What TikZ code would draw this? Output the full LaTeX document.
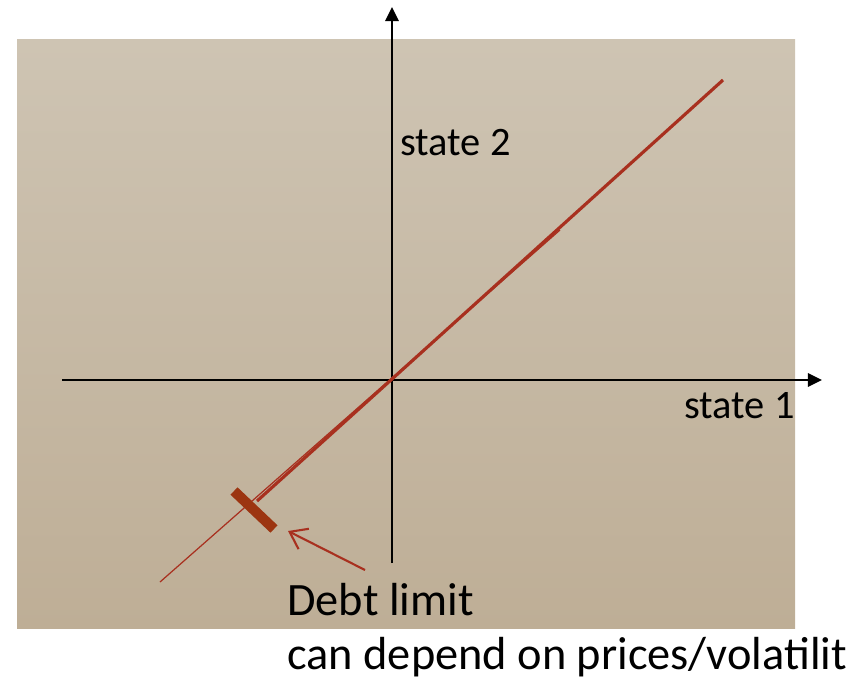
\documentclass[tikz,border=0pt]{standalone}
\usepackage{fontspec}
\setmainfont{Carlito}
\usetikzlibrary{arrows.meta}

\definecolor{bgtop}{HTML}{CEC4B3}
\definecolor{bgbot}{HTML}{BEAE96}
\definecolor{budget}{HTML}{A8301F}
\definecolor{limitbar}{HTML}{9C3511}

\begin{document}
\begin{tikzpicture}[x=0.02cm, y=-0.02cm,
    axis/.style={line width=1.5pt, -{Triangle[length=8pt, width=7.5pt]}},
    label/.style={font=\fontsize{23}{27}\selectfont, inner sep=0pt, anchor=base west},
    note/.style={font=\fontsize{26.4}{31}\selectfont, inner sep=0pt, anchor=base west}]
    \useasboundingbox (0,0) rectangle (854,680);

    % Draw background
    \shade[top color=bgtop, bottom color=bgbot] (17,39) rectangle (795,628);

    % Draw points
    \coordinate (xl) at (62,380);
    \coordinate (xr) at (822,380);
    \coordinate (yb) at (392,563);
    \coordinate (yt) at (392,7);
    \coordinate (top) at (723,80);
    \coordinate (lim) at (257,501);
    \coordinate (thintop) at (560,230);
    \coordinate (thinend) at (160,582);
    \coordinate (bar1) at (234,491);
    \coordinate (bar2) at (274,529);
    \coordinate (from) at (365,570);
    \coordinate (to) at (288,531);

    % Draw axes
    \draw[axis] (xl) -- (xr);
    \draw[axis] (yb) -- (yt);

    % Draw budget lines
    \draw[budget, line width=0.7pt] (thintop) -- (thinend);
    \draw[budget, line width=1.8pt] (top) -- (lim);
    \draw[limitbar, line width=5.8pt] (bar1) -- (bar2);
    \draw[budget, line width=1.2pt, -{Straight Barb[length=9pt, width=13pt]}] (from) -- (to);

    % Labels
    \node[label] (s2) at (400,155) {state 2};
    \node[label] (s1) at (684,418) {state 1};
    \node[note] (debt) at (287,615) {Debt limit};
    \node[note] (dep) at (287,669) {can depend on prices/volatilit};
\end{tikzpicture}
\end{document}
